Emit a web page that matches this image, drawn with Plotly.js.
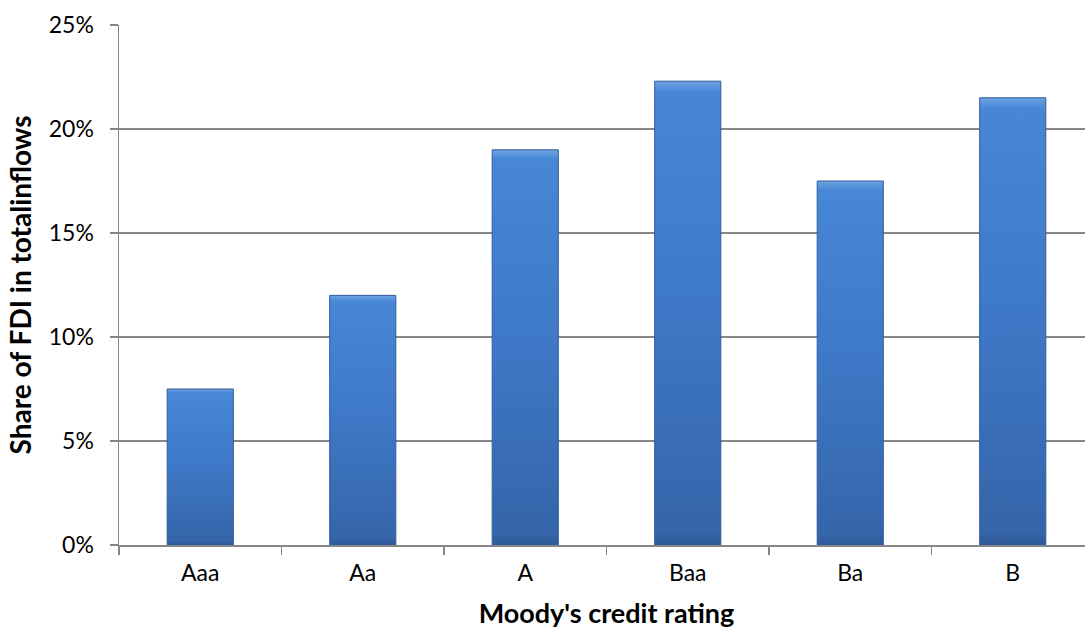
<!DOCTYPE html>
<html>
<head>
<meta charset="utf-8">
<script src="https://cdn.plot.ly/plotly-3.0.1.min.js"></script>
<style>html,body{margin:0;padding:0;background:#fff;overflow:hidden;}#wrap{width:1085px;height:631px;overflow:hidden;}#chart{width:1095px;height:631px;}</style>
</head>
<body>
<div id="wrap"><div id="chart"></div></div>
<script>
const categories = ["Aaa", "Aa", "A", "Baa", "Ba", "B"];
const shares = [0.075, 0.120, 0.190, 0.223, 0.175, 0.215];
const yTickVals = [0, 0.05, 0.10, 0.15, 0.20, 0.25];
const yTickText = ["0%", "5%", "10%", "15%", "20%", "25%"];

const trace = {
  type: "bar",
  x: categories,
  y: shares,
  marker: {color: "#3f7acb", line: {color: "#2f5c9a", width: 1}},
  hoverinfo: "x+y"
};

const layout = {
  width: 1095, height: 631,
  margin: {l: 119, r: 1, t: 25, b: 86},
  paper_bgcolor: "#ffffff", plot_bgcolor: "#ffffff",
  font: {family: "Lato, 'Open Sans', sans-serif", color: "#000000", size: 23},
  bargap: 0.593,
  showlegend: false,
  xaxis: {
    type: "category",
    showline: true, linecolor: "#868686", linewidth: 1.5,
    ticks: "outside", tickson: "boundaries", ticklen: 8, tickcolor: "#868686", tickwidth: 1.5,
    ticklabelstandoff: 7,
    showgrid: false,
    tickfont: {size: 23},
    title: {text: "<b>Moody's credit rating</b>", font: {size: 27}, standoff: 19}
  },
  yaxis: {
    range: [0, 0.25],
    tickvals: yTickVals, ticktext: yTickText,
    showline: true, linecolor: "#868686", linewidth: 1.5,
    ticks: "outside", ticklen: 8, tickcolor: "#868686", tickwidth: 1.5,
    ticklabelstandoff: 11,
    showgrid: true, gridcolor: "#868686", gridwidth: 1.5,
    zeroline: false,
    tickfont: {size: 23},
    title: {text: "<b>Share of FDI in totalinflows</b>", font: {size: 28}, standoff: 9}
  }
};

Plotly.newPlot("chart", [trace], layout, {displayModeBar: false, staticPlot: true}).then(function (gd) {
  const svg = gd.querySelector("svg.main-svg");
  const ns = "http://www.w3.org/2000/svg";
  let defs = svg.querySelector("defs");
  if (!defs) { defs = document.createElementNS(ns, "defs"); svg.insertBefore(defs, svg.firstChild); }
  const grad = document.createElementNS(ns, "linearGradient");
  grad.setAttribute("id", "barGrad");
  grad.setAttribute("x1", "0"); grad.setAttribute("y1", "0");
  grad.setAttribute("x2", "0"); grad.setAttribute("y2", "1");
  [["0", "#6ea3e2"], ["0.025", "#4787d6"], ["0.5", "#3e78c6"], ["0.97", "#3565aa"], ["1", "#2f5a98"]].forEach(function (s) {
    const st = document.createElementNS(ns, "stop");
    st.setAttribute("offset", s[0]); st.setAttribute("stop-color", s[1]);
    grad.appendChild(st);
  });
  defs.appendChild(grad);
  gd.querySelectorAll(".bars .point path").forEach(function (p) {
    p.style.fill = "url(#barGrad)";
  });
});
</script>
</body>
</html>
